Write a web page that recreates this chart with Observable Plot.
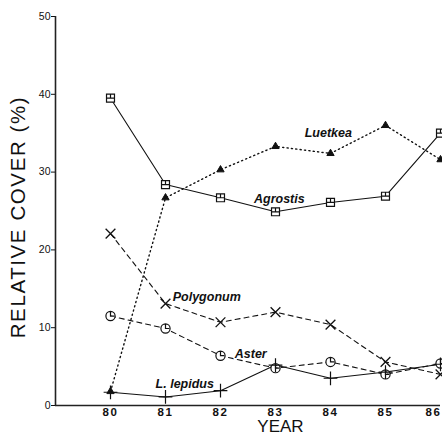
<!DOCTYPE html>
<html>
<head>
<meta charset="utf-8">
<script src="https://cdn.jsdelivr.net/npm/d3@7"></script>
<script src="https://cdn.jsdelivr.net/npm/@observablehq/plot@0.6"></script>
<style>
  html, body { margin: 0; padding: 0; background: #fff; }
  #chart svg { display: block; }
  #chart .ylab text { letter-spacing: 1.6px; }
  #chart .xticks text { letter-spacing: 1.5px; }
</style>
</head>
<body>
<div id="chart"></div>
<script>
// Relative cover (%) of five species, 1980–1986
const years = [80, 81, 82, 83, 84, 85, 86];
const agrostis  = [39.5, 28.4, 26.7, 24.9, 26.1, 26.9, 35.0];
const luetkea   = [1.8, 26.7, 30.3, 33.3, 32.4, 36.0, 31.6];
const polygonum = [22.1, 13.1, 10.7, 12.0, 10.4, 5.6, 4.0];
const aster     = [11.5, 9.9, 6.4, 4.8, 5.6, 4.0, 5.4];
const lepidus   = [1.7, 1.1, 1.9, 5.2, 3.5, 4.3, 5.3];
const yTicks = [0, 10, 20, 30, 40, 50];

// Species name annotations (year, cover)
const labelNames = ["Luetkea", "Agrostis", "Polygonum", "Aster", "L. lepidus"];
const labelX = [83.96, 83.07, 81.75, 82.55, 81.35];
const labelY = [35.0, 26.6, 13.9, 6.6, 2.7];

// Hand-drawn style symbols: square with an inner cross stub, circle with a clock hand
const squareTick = {
  draw(ctx, size) {
    const r = Math.sqrt(size) / 2;
    ctx.moveTo(-r, -r); ctx.lineTo(r, -r); ctx.lineTo(r, r); ctx.lineTo(-r, r); ctx.closePath();
    ctx.moveTo(0, -r); ctx.lineTo(0, 0);
    ctx.moveTo(-r, 0); ctx.lineTo(r, 0);
  }
};
const clockCircle = {
  draw(ctx, size) {
    const r = Math.sqrt(size / Math.PI);
    ctx.moveTo(r, 0); ctx.arc(0, 0, r, 0, 2 * Math.PI);
    ctx.moveTo(0, -r); ctx.lineTo(0, 0); ctx.lineTo(r * 0.8, 0);
  }
};

const series = (vals) => years.map((yr, i) => ({year: yr, value: vals[i]}));
const A = series(agrostis), L = series(luetkea), P = series(polygonum), S = series(aster), LL = series(lepidus);
const labels = labelNames.map((t, i) => ({t, x: labelX[i], y: labelY[i]}));

const font = "'Liberation Sans', Arial, Helvetica, sans-serif";
const xTickStyle = {tickSize: 0, tickPadding: 2, fontSize: 11.5, fontWeight: "bold", label: null, tickFormat: d => String(d), className: "xticks"};

const chart = Plot.plot({
  width: 442,
  height: 437,
  marginLeft: 55,
  marginRight: 2,
  marginTop: 16,
  marginBottom: 32,
  style: {fontFamily: font, background: "#fff", color: "#111"},
  x: {domain: [79, 86]},
  y: {domain: [0, 50]},
  marks: [
    Plot.axisY({ticks: yTicks, tickSize: 4, tickPadding: 1, fontSize: 10.5, label: null}),
    Plot.axisX({...xTickStyle, ticks: years.slice(0, -1)}),
    // last year's label sits against the right edge
    Plot.axisX({...xTickStyle, ticks: years.slice(-1), dx: -7}),
    Plot.ruleX([79], {stroke: "#222", strokeWidth: 1.6}),
    Plot.ruleY([0], {stroke: "#222", strokeWidth: 1.6}),

    Plot.line(L, {x: "year", y: "value", stroke: "#111", strokeWidth: 1.4, strokeDasharray: "1.2,3.2", strokeLinecap: "round"}),
    Plot.line(A, {x: "year", y: "value", stroke: "#111", strokeWidth: 1.1}),
    Plot.line(P, {x: "year", y: "value", stroke: "#111", strokeWidth: 1.1, strokeDasharray: "5,4"}),
    Plot.line(S, {x: "year", y: "value", stroke: "#111", strokeWidth: 1.1, strokeDasharray: "5,4"}),
    Plot.line(LL, {x: "year", y: "value", stroke: "#111", strokeWidth: 1.1}),

    Plot.dot(A, {x: "year", y: "value", symbol: squareTick, r: 4.5, fill: "#fff", stroke: "#111", strokeWidth: 1.2}),
    Plot.dot(L, {x: "year", y: "value", symbol: "triangle", r: 2.7, fill: "#111", stroke: "#111", strokeWidth: 1}),
    Plot.dot(P, {x: "year", y: "value", symbol: "times", r: 4.5, stroke: "#111", strokeWidth: 1.3}),
    Plot.dot(S, {x: "year", y: "value", symbol: clockCircle, r: 4.6, fill: "#fff", stroke: "#111", strokeWidth: 1.2}),
    Plot.dot(LL, {x: "year", y: "value", symbol: "plus", r: 4.5, stroke: "#111", strokeWidth: 1.2}),

    Plot.text(labels, {x: "x", y: "y", text: "t", fontSize: 12.5, fontWeight: "bold", fontStyle: "italic", fill: "#111", stroke: "#fff", strokeWidth: 2, paintOrder: "stroke"}),

    Plot.text(["RELATIVE COVER (%)"], {frameAnchor: "left", dx: -37, dy: 6, rotate: -90, fontSize: 20.5, fill: "#111", textAnchor: "middle", className: "ylab"}),
    Plot.text(["YEAR"], {x: 83.09, frameAnchor: "bottom", dy: 21.5, lineAnchor: "middle", fontSize: 17, fill: "#111"})
  ]
});

document.getElementById("chart").appendChild(chart);
</script>
</body>
</html>
